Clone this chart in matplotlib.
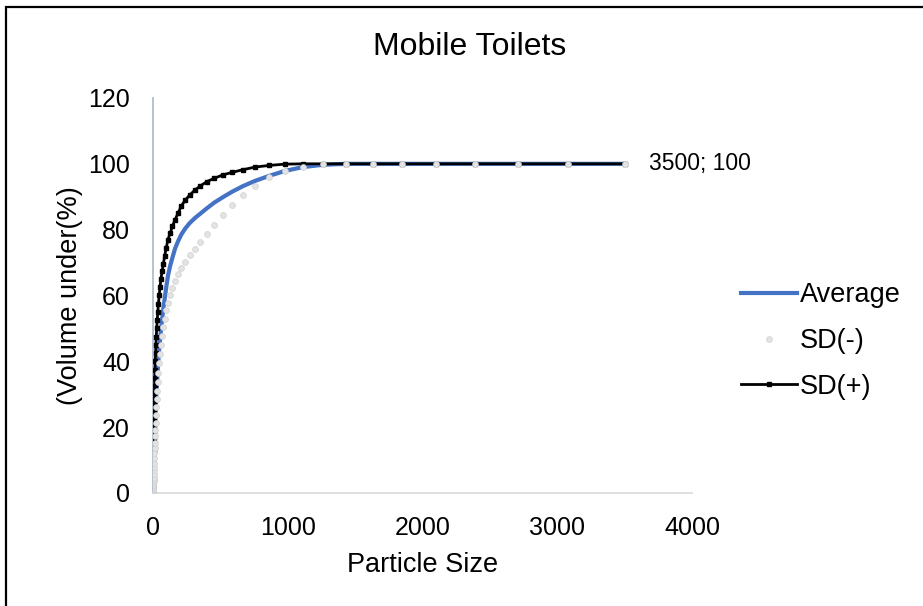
import matplotlib
matplotlib.use("Agg")
import matplotlib.pyplot as plt
from matplotlib.patches import Rectangle

plt.rcParams['font.family'] = ['Liberation Sans', 'DejaVu Sans']

# Particle size classes (um).
SIZES = [
    0.0100, 0.0114, 0.0129, 0.0147, 0.0167, 0.0189, 0.0215, 0.0244, 0.0278, 0.0315,
    0.0358, 0.0407, 0.0463, 0.0526, 0.0597, 0.0679, 0.0771, 0.0876, 0.0995, 0.113,
    0.128, 0.146, 0.166, 0.188, 0.214, 0.243, 0.276, 0.314, 0.357, 0.405,
    0.460, 0.523, 0.594, 0.675, 0.767, 0.872, 0.991, 1.13, 1.28, 1.45,
    1.65, 1.88, 2.13, 2.42, 2.75, 3.12, 3.55, 4.03, 4.58, 5.21,
    5.92, 6.72, 7.64, 8.68, 9.86, 11.2, 12.7, 14.5, 16.4, 18.7,
    21.2, 24.1, 27.4, 31.1, 35.3, 40.1, 45.6, 51.8, 58.9, 66.9,
    76.0, 86.4, 98.1, 111, 127, 144, 163, 186, 211, 240,
    272, 310, 352, 400, 454, 516, 586, 666, 756, 859,
    976, 1110, 1260, 1430, 1630, 1850, 2100, 2390, 2710, 3080,
    3500,
]

# Volume under (%) for each size class.
AVERAGE = [
    0, 0, 0, 0, 0, 0, 0, 0, 0, 0,
    0, 0, 0, 0, 0, 0, 0, 0, 0, 0,
    0, 0, 0, 0, 0, 0, 0, 0, 0.01, 0.03,
    0.05, 0.08, 0.12, 0.18, 0.25, 0.34, 0.45, 0.6, 0.8, 1.0,
    1.3, 1.6, 2.0, 2.4, 2.9, 3.5, 4.2, 5.0, 5.9, 6.9,
    8.0, 9.2, 10.5, 12.0, 13.6, 15.4, 17.3, 19.4, 21.6, 24.0,
    26.5, 29.1, 31.8, 34.6, 37.5, 40.5, 43.5, 46.5, 49.5, 52.5,
    55.8, 59.0, 62.5, 66.0, 69.0, 71.5, 74.2, 76.5, 78.6, 80.4,
    82.0, 83.5, 84.9, 86.5, 88.2, 89.8, 91.5, 93.2, 94.8, 96.3,
    97.8, 99.0, 99.7, 100, 100, 100, 100, 100, 100, 100,
    100,
]
SD_MINUS = [
    0, 0, 0, 0, 0, 0, 0, 0, 0, 0,
    0, 0, 0, 0, 0, 0, 0, 0, 0, 0,
    0, 0, 0, 0, 0, 0, 0, 0, 0, 0,
    0.02, 0.04, 0.07, 0.11, 0.17, 0.24, 0.33, 0.45, 0.6, 0.8,
    1.0, 1.3, 1.6, 2.0, 2.4, 2.9, 3.5, 4.2, 5.0, 5.9,
    6.9, 8.0, 9.2, 10.5, 12.0, 13.6, 15.3, 17.2, 19.2, 21.3,
    23.6, 26.0, 28.5, 31.1, 33.8, 36.6, 39.4, 42.2, 45.0, 47.8,
    50.5, 53.0, 55.5, 57.8, 60.2, 62.2, 64.5, 66.5, 68.3, 70.3,
    72.3, 74.2, 76.4, 78.8, 81.5, 84.5, 87.5, 90.5, 93.4, 96.0,
    97.9, 99.1, 99.8, 100, 100, 100, 100, 100, 100, 100,
    100,
]
SD_PLUS = [
    0, 0, 0, 0, 0, 0, 0, 0, 0, 0,
    0, 0, 0, 0, 0, 0, 0, 0, 0, 0,
    0, 0, 0, 0.02, 0.05, 0.09, 0.14, 0.2, 0.28, 0.38,
    0.5, 0.65, 0.85, 1.1, 1.4, 1.8, 2.2, 2.7, 3.3, 4.0,
    4.9, 5.9, 7.0, 8.3, 9.7, 11.2, 12.9, 14.7, 16.6, 18.6,
    20.7, 22.9, 25.2, 27.6, 30.0, 32.5, 35.0, 37.5, 40.0, 42.5,
    45.0, 47.5, 50.0, 52.5, 55.0, 57.5, 60.0, 62.5, 65.0, 67.3,
    69.5, 72.0, 74.5, 77.0, 79.0, 81.0, 83.0, 85.0, 87.3, 89.0,
    90.5, 92.0, 93.3, 94.6, 95.6, 96.6, 97.4, 98.2, 99.0, 99.5,
    99.9, 100, 100, 100, 100, 100, 100, 100, 100, 100,
    100,
]

fig = plt.figure(figsize=(9.23, 6.06), dpi=100)
ax = fig.add_axes([0.1658, 0.1865, 0.5839, 0.6518])

# Chart frame (only left and top edges are in the picture).
fig.patches.append(Rectangle((6 / 923, -0.1), 1.2, 1.1 - 7 / 606, transform=fig.transFigure,
                             fill=False, edgecolor='black', linewidth=1.6, zorder=0))

ax.plot(SIZES, AVERAGE, color='#4472C4', linewidth=3, label='Average', zorder=2)
ax.plot(SIZES, SD_PLUS, color='black', linewidth=2, marker='s', markersize=3.5,
        label='SD(+)', zorder=3)
ax.plot(SIZES, SD_MINUS, linestyle='none', marker='o', markersize=4.2, color='#e3e3e3',
        markeredgecolor='#d0d0d0', markeredgewidth=0.5, label='SD(-)', zorder=4)

# Data label on the last point.
ax.annotate('3500; 100', xy=(SIZES[-1], SD_PLUS[-1]), xytext=(17.5, 0), textcoords='offset points',
            va='center', ha='left', fontsize=16.5)

ax.set_xlim(0, 4000)
ax.set_ylim(0, 120)
ax.set_xticks([0, 1000, 2000, 3000, 4000])
ax.set_yticks([0, 20, 40, 60, 80, 100, 120])
ax.tick_params(length=0, labelsize=18)
ax.tick_params(axis='x', pad=16.5)
ax.tick_params(axis='y', pad=16.5)

for s in ['top', 'right']:
    ax.spines[s].set_visible(False)
ax.spines['left'].set_color('#a9b7cc')
ax.spines['left'].set_linewidth(1.2)
ax.spines['bottom'].set_color('#d9d9d9')
ax.spines['bottom'].set_linewidth(1.2)

ax.set_xlabel('Particle Size', fontsize=19.5, labelpad=9)
ax.set_ylabel('(Volume under(%)', fontsize=19.5, labelpad=4)
fig.text(470 / 923, 1 - 47 / 606, 'Mobile Toilets', ha='center', va='center', fontsize=23)

handles, labels = ax.get_legend_handles_labels()
order = [0, 2, 1]
ax.legend([handles[i] for i in order], [labels[i] for i in order],
          loc='center left', bbox_to_anchor=(727 / 923, 1 - 341 / 606),
          bbox_transform=fig.transFigure, frameon=False, fontsize=19.5,
          handlelength=2.1, handletextpad=0.1, labelspacing=0.72, borderpad=0)

fig.savefig('out.png', dpi=100)
